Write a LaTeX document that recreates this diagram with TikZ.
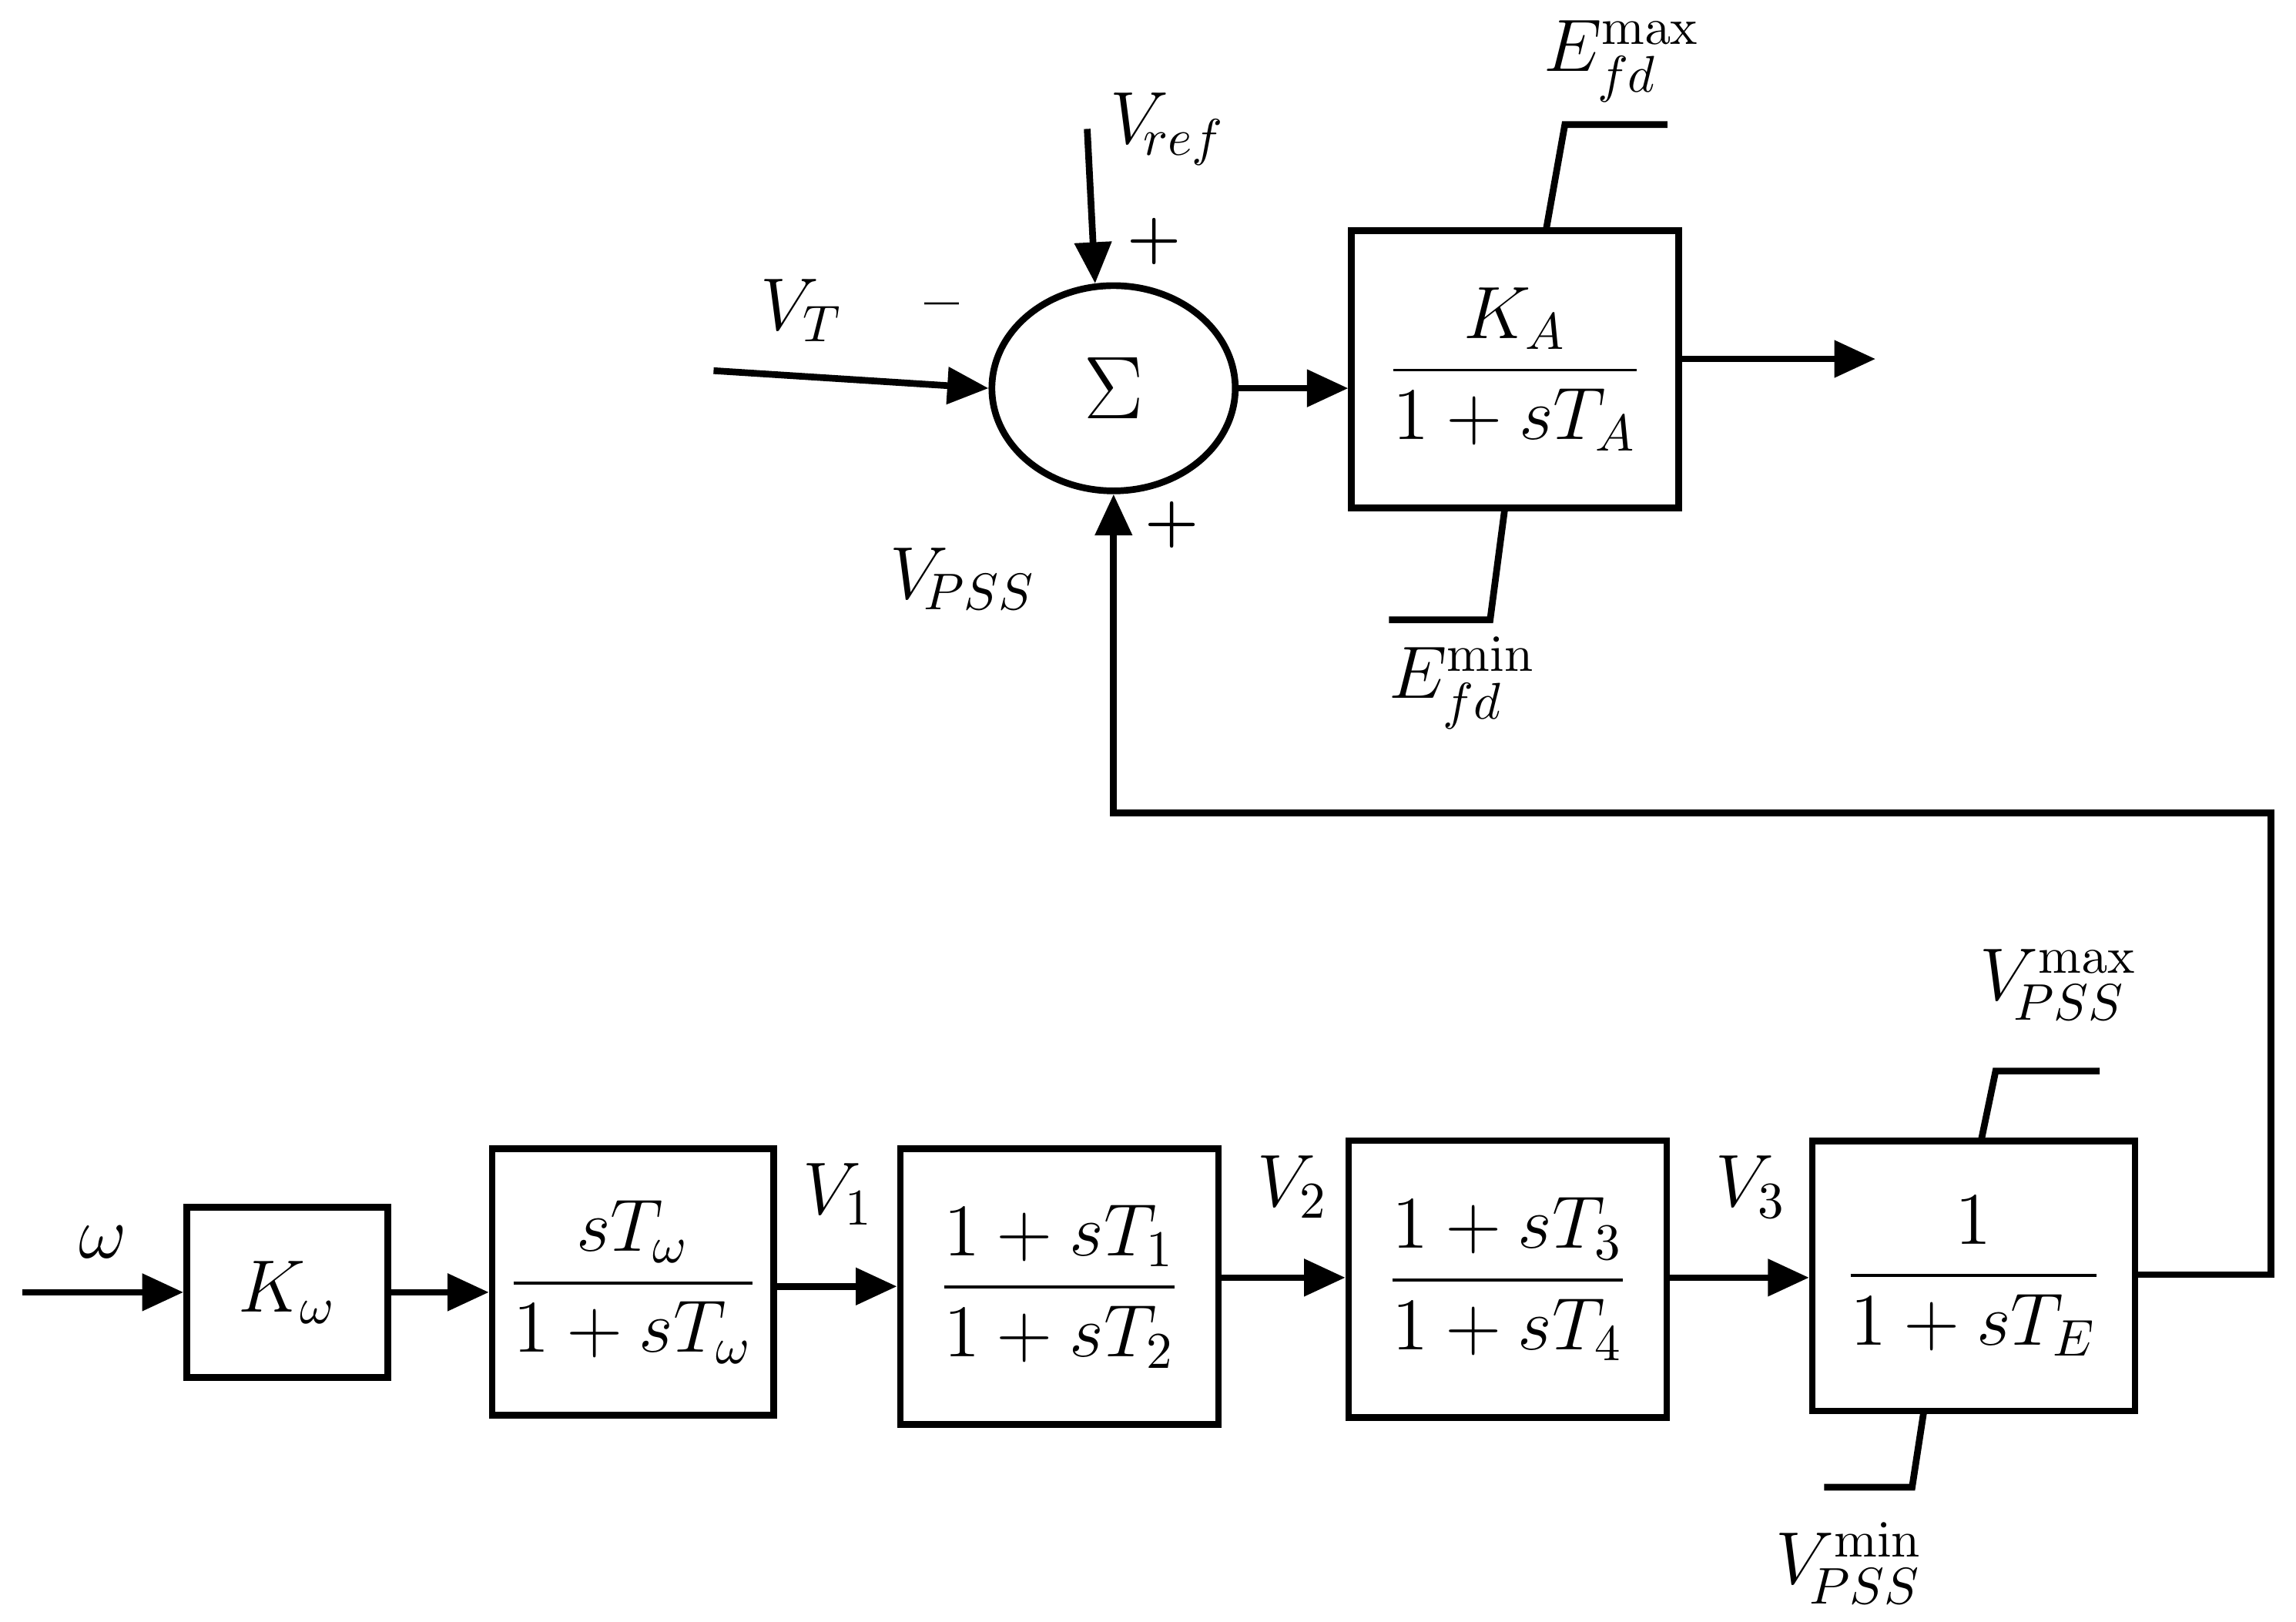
\documentclass[tikz,border=0pt]{standalone}
\usepackage{amsmath}
\usetikzlibrary{arrows.meta,positioning,shapes.geometric}
\tikzset{
  blk/.style={draw,line width=1.3pt,inner sep=2pt},
  sig/.style={line width=1.3pt,-{Triangle[length=8pt,width=7pt]}},
  lim/.style={line width=1.3pt},
  lbl/.style={font=\Large}
}
\begin{document}
\begin{tikzpicture}[x=0.01cm,y=-0.01cm]
    \useasboundingbox (0,0) rectangle (1567,1107);
    % Summing junction and exciter
    \node[ellipse,draw,line width=1.3pt,minimum width=1.66cm,minimum height=1.4cm] (sum) at (760,265) {\LARGE$\Sigma$};
    \node[blk,minimum width=2.23cm,minimum height=1.89cm] (ka) at (1034,252) {\Large$\dfrac{K_A}{1+sT_A}$};
    \coordinate (vref) at (742,88);
    \coordinate (vt) at (487,253);
    \coordinate (out) at (1280,245);
    \draw[sig] (vref) -- (sum.100);
    \draw[sig] (vt) -- (sum.west);
    \draw[sig] (sum.east) -- (ka.west |- sum.east);
    \draw[sig] (ka.east |- out) -- (out);
    \node[lbl] (lref) at (797,88) {$V_{\!ref}$};
    \node[lbl] (lvt) at (547,212) {$V_{T}$};
    \node[lbl] (lpss) at (657,395) {$V_{\!PSS}$};
    \node[font=\large\bfseries] (p1) at (788,165) {+};
    \node[font=\large\bfseries] (p2) at (800,358) {+};
    \node[font=\large\bfseries] (m1) at (643,213) {--};
    % exciter limits
    \draw[lim] (1055,158) -- (1068,85) -- (1138,85);
    \draw[lim] (1027,347) -- (1017,423) -- (948,423);
    \node[lbl] (emax) at (1107,42) {$E_{fd}^{\max}$};
    \node[lbl] (emin) at (998,466) {$E_{fd}^{\min}$};
    % PSS chain
    \node[blk,minimum width=1.37cm,minimum height=1.16cm] (kw) at (196,882) {\Large$K_\omega$};
    \node[blk,minimum width=1.92cm,minimum height=1.82cm] (wo) at (432,875) {\Large$\dfrac{sT_\omega}{1+sT_\omega}$};
    \node[blk,minimum width=2.17cm,minimum height=1.88cm] (ll1) at (723,878) {\Large$\dfrac{1+sT_1}{1+sT_2}$};
    \node[blk,minimum width=2.17cm,minimum height=1.89cm] (ll2) at (1029,873) {\Large$\dfrac{1+sT_3}{1+sT_4}$};
    \node[blk,minimum width=2.2cm,minimum height=1.84cm] (te) at (1347,871) {\Large$\dfrac{1}{1+sT_E}$};
    \coordinate (win) at (15,882);
    \draw[sig] (win) -- (kw.west);
    \draw[sig] (kw.east) -- (wo.west |- kw.east);
    \draw[sig] (wo.east |- 0,878) -- (ll1.west |- 0,878);
    \draw[sig] (ll1.east |- 0,872) -- (ll2.west |- 0,872);
    \draw[sig] (ll2.east |- 0,872) -- (te.west |- 0,872);
    \node[lbl] (lw) at (70,848) {$\omega$};
    \node[lbl] (l1) at (572,815) {$V_1$};
    \node[lbl] (l2) at (882,810) {$V_2$};
    \node[lbl] (l3) at (1195,810) {$V_3$};
    % PSS limits
    \draw[lim] (1352,779) -- (1362,731) -- (1433,731);
    \draw[lim] (1313,963) -- (1305,1015) -- (1245,1015);
    \node[lbl] (vmax) at (1405,672) {$V_{\!PSS}^{\max}$};
    \node[lbl] (vmin) at (1262,1067) {$V_{\!PSS}^{\min}$};
    % feedback
    \draw[sig] (te.east |- 0,870) -- (1550,870) -- (1550,555) -- (760,555) -- (sum.south);
\end{tikzpicture}
\end{document}
